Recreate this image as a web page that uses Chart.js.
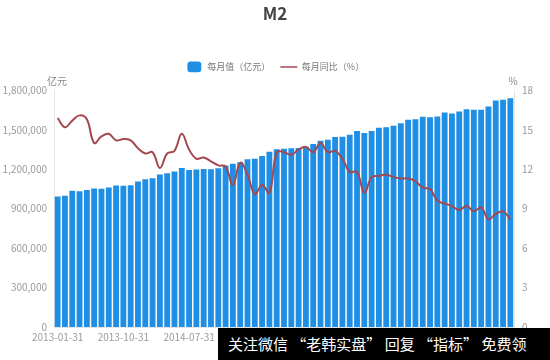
<!DOCTYPE html>
<html>
<head>
<meta charset="utf-8">
<script src="https://cdn.jsdelivr.net/npm/chart.js@4/dist/chart.umd.min.js"></script>
<style>
  html, body { margin: 0; padding: 0; background: #fff; }
  #wrap { position: relative; width: 550px; height: 360px; }
  #wm { position: absolute; left: 218px; top: 328px; width: 332px; height: 32px; background: #000;
        color: #fff; font-family: "Noto Sans CJK SC", sans-serif; font-size: 15px; line-height: 32px;
        white-space: nowrap; padding-left: 10px; box-sizing: border-box; overflow: hidden; }
</style>
</head>
<body>
<div id="wrap">
  <canvas id="c" width="550" height="360"></canvas>
  <div id="wm">关注微信 “老韩实盘” 回复 “指标” 免费领</div>
</div>
<script>
const months = [
  "2013-01-31","2013-02-28","2013-03-31","2013-04-30","2013-05-31","2013-06-30","2013-07-31","2013-08-31","2013-09-30","2013-10-31","2013-11-30","2013-12-31",
  "2014-01-31","2014-02-28","2014-03-31","2014-04-30","2014-05-31","2014-06-30","2014-07-31","2014-08-31","2014-09-30","2014-10-31","2014-11-30","2014-12-31",
  "2015-01-31","2015-02-28","2015-03-31","2015-04-30","2015-05-31","2015-06-30","2015-07-31","2015-08-31","2015-09-30","2015-10-31","2015-11-30","2015-12-31",
  "2016-01-31","2016-02-29","2016-03-31","2016-04-30","2016-05-31","2016-06-30","2016-07-31","2016-08-31","2016-09-30","2016-10-31","2016-11-30","2016-12-31",
  "2017-01-31","2017-02-28","2017-03-31","2017-04-30","2017-05-31","2017-06-30","2017-07-31","2017-08-31","2017-09-30","2017-10-31","2017-11-30","2017-12-31",
  "2018-01-31","2018-02-28","2018-03-31"
];
const m2Value = [
  992129, 998601, 1035859, 1032552, 1042169, 1054404, 1052212, 1061256, 1077379, 1074095, 1079257, 1106525,
  1123521, 1131273, 1160687, 1168812, 1182300, 1209587, 1194249, 1197499, 1202051, 1199236, 1208605, 1228375,
  1242710, 1253364, 1275333, 1280232, 1301787, 1333375, 1353211, 1356927, 1359824, 1361022, 1372080, 1392278,
  1416319, 1424619, 1446198, 1447952, 1461695, 1490492, 1475486, 1491648, 1516360, 1519457, 1530435, 1550066,
  1575945, 1581265, 1599609, 1596331, 1601381, 1631282, 1624300, 1639000, 1655662, 1653400, 1653200, 1676769,
  1724000, 1729000, 1739859
];
const m2YoY = [
  15.9, 15.2, 15.7, 16.1, 15.8, 14.0, 14.5, 14.7, 14.2, 14.3, 14.2, 13.6,
  13.2, 13.3, 12.1, 13.2, 13.4, 14.7, 13.5, 12.8, 12.9, 12.6, 12.3, 12.2,
  10.8, 12.5, 11.6, 10.1, 10.8, 10.2, 13.3, 13.3, 13.1, 13.5, 13.7, 13.3,
  14.0, 13.3, 13.4, 12.8, 11.8, 11.8, 10.2, 11.4, 11.5, 11.6, 11.4, 11.3,
  11.3, 11.1, 10.6, 10.5, 9.6, 9.4, 9.2, 8.9, 9.2, 8.8, 9.1, 8.2,
  8.6, 8.8, 8.2
];
const leftTicks = [0, 300000, 600000, 900000, 1200000, 1500000, 1800000];
const rightTicks = [0, 3, 6, 9, 12, 15, 18];
const seriesNames = ["每月值（亿元）", "每月同比（%）"];
const titleText = "M2";
const unitLeft = "亿元";
const unitRight = "%";

const FONT = '"Noto Sans CJK SC", "Noto Sans", sans-serif';
const BAR = '#1f8fe6';
const LINE = '#a3484f';
const TICK = '#9a9a9a';

const unitPlugin = {
  id: 'units',
  afterInit(chart) {
    const lg = chart.legend;
    if (lg && !lg._wrapped) {
      const f = lg.fit.bind(lg);
      lg.fit = function () { f(); this.height += 9; };
      lg._wrapped = true;
    }
  },
  afterDraw(chart) {
    const ctx = chart.ctx, a = chart.chartArea;
    ctx.save();
    ctx.font = '10px ' + FONT;
    ctx.fillStyle = '#888';
    ctx.textBaseline = 'middle';
    ctx.textAlign = 'center';
    ctx.fillText(unitLeft, 57, a.top - 9);
    ctx.fillText(unitRight, 513, a.top - 9);
    ctx.restore();
  }
};

new Chart(document.getElementById('c'), {
  data: {
    labels: months,
    datasets: [
      { type: 'bar', label: seriesNames[0], data: m2Value, yAxisID: 'y', backgroundColor: BAR,
        barPercentage: 0.8, categoryPercentage: 1.0, order: 1 },
      { type: 'line', label: seriesNames[1], data: m2YoY, yAxisID: 'y1', borderColor: LINE,
        backgroundColor: LINE, borderWidth: 2, pointRadius: 0, tension: 0.4, order: 0 }
    ]
  },
  options: {
    responsive: false,
    animation: false,
    layout: { padding: { left: 0, right: 0, top: 0, bottom: 0 } },
    plugins: {
      title: { display: true, text: titleText, color: '#444',
               font: { family: FONT, size: 17, weight: 'bold' }, padding: { top: 3, bottom: 29 } },
      legend: {
        display: true, position: 'top',
        labels: {
          usePointStyle: true, pointStyleWidth: 17, boxHeight: 10, color: '#777',
          font: { family: FONT, size: 9 }, padding: 10,
          sort: (a, b) => a.datasetIndex - b.datasetIndex,
          generateLabels(chart) {
            const items = Chart.defaults.plugins.legend.labels.generateLabels(chart);
            items.forEach(it => {
              if (it.datasetIndex === 0) { it.pointStyle = 'rectRounded'; it.fillStyle = BAR; it.strokeStyle = BAR; it.lineWidth = 0; }
              else { it.pointStyle = 'line'; it.strokeStyle = LINE; it.lineWidth = 1.5; }
            });
            return items;
          }
        }
      },
      tooltip: { enabled: false }
    },
    scales: {
      x: {
        grid: { display: false, drawTicks: false },
        border: { display: true, color: '#e6e6e6' },
        ticks: { autoSkip: false, maxRotation: 0, color: TICK, font: { family: FONT, size: 10 }, padding: 4,
                 callback(v, i) { return i % 9 === 0 ? months[i] : null; } },
        afterFit(s) { s.height = 33; }
      },
      y: {
        position: 'left', min: 0, max: 1800000,
        grid: { display: false, drawTicks: false },
        border: { display: true, color: '#e6e6e6' },
        afterBuildTicks(s) { s.ticks = leftTicks.map(v => ({ value: v })); },
        ticks: { color: TICK, font: { family: FONT, size: 10 }, padding: 7,
                 callback(v) { return v.toLocaleString('en-US'); } },
        afterFit(s) { s.width = 54; }
      },
      y1: {
        position: 'right', min: 0, max: 18,
        grid: { display: false, drawTicks: false },
        border: { display: true, color: '#e6e6e6' },
        afterBuildTicks(s) { s.ticks = rightTicks.map(v => ({ value: v })); },
        ticks: { color: TICK, font: { family: FONT, size: 10 }, padding: 8 },
        afterFit(s) { s.width = 36; }
      }
    }
  },
  plugins: [unitPlugin]
});
</script>
</body>
</html>
